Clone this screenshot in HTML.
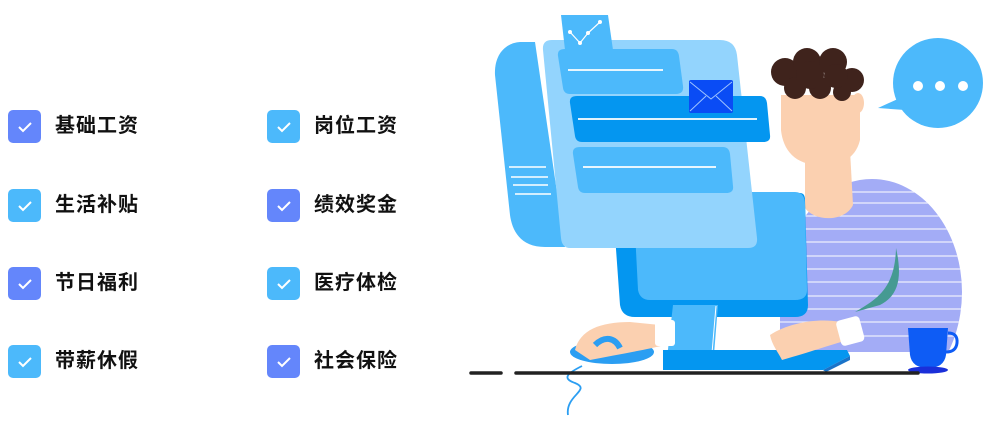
<!DOCTYPE html>
<html><head><meta charset="utf-8"><style>
html,body{margin:0;padding:0;background:#fff;width:1000px;height:423px;overflow:hidden;position:relative}
.cb{position:absolute;width:33px;height:33px;border-radius:5px}
.cb svg{position:absolute;left:0;top:0}
.p{background:#6486fb}.b{background:#4cb9fb}
.t{position:absolute;font-family:"Liberation Sans","Noto Sans CJK SC",sans-serif;font-weight:bold;font-size:20px;color:#111;line-height:33px;letter-spacing:1px}
</style></head><body>
<div class="cb p" style="left:8px;top:110px"><svg width="33" height="33"><path d="M11 17l4 4 8-8" stroke="#fff" stroke-width="2" fill="none"/></svg></div><div class="t" style="left:55px;top:110px">基础工资</div>
<div class="cb b" style="left:267px;top:110px"><svg width="33" height="33"><path d="M11 17l4 4 8-8" stroke="#fff" stroke-width="2" fill="none"/></svg></div><div class="t" style="left:314px;top:110px">岗位工资</div>
<div class="cb b" style="left:8px;top:189px"><svg width="33" height="33"><path d="M11 17l4 4 8-8" stroke="#fff" stroke-width="2" fill="none"/></svg></div><div class="t" style="left:55px;top:189px">生活补贴</div>
<div class="cb p" style="left:267px;top:189px"><svg width="33" height="33"><path d="M11 17l4 4 8-8" stroke="#fff" stroke-width="2" fill="none"/></svg></div><div class="t" style="left:314px;top:189px">绩效奖金</div>
<div class="cb p" style="left:8px;top:267px"><svg width="33" height="33"><path d="M11 17l4 4 8-8" stroke="#fff" stroke-width="2" fill="none"/></svg></div><div class="t" style="left:55px;top:267px">节日福利</div>
<div class="cb b" style="left:267px;top:267px"><svg width="33" height="33"><path d="M11 17l4 4 8-8" stroke="#fff" stroke-width="2" fill="none"/></svg></div><div class="t" style="left:314px;top:267px">医疗体检</div>
<div class="cb b" style="left:8px;top:345px"><svg width="33" height="33"><path d="M11 17l4 4 8-8" stroke="#fff" stroke-width="2" fill="none"/></svg></div><div class="t" style="left:55px;top:345px">带薪休假</div>
<div class="cb p" style="left:267px;top:345px"><svg width="33" height="33"><path d="M11 17l4 4 8-8" stroke="#fff" stroke-width="2" fill="none"/></svg></div><div class="t" style="left:314px;top:345px">社会保险</div>

<svg width="1000" height="423" style="position:absolute;left:0;top:0">
<defs><clipPath id="sh"><ellipse cx="872" cy="292" rx="90" ry="113"/><rect x="780" y="240" width="100" height="112"/></clipPath></defs>
<g clip-path="url(#sh)"><rect x="770" y="175" width="200" height="177" fill="#a3acf6"/>
<g stroke="#fff" stroke-width="1.2" opacity=".8">
<line x1="770" y1="192" x2="970" y2="192"/><line x1="770" y1="203" x2="970" y2="203"/><line x1="770" y1="216" x2="970" y2="216"/><line x1="770" y1="229" x2="970" y2="229"/><line x1="770" y1="242" x2="970" y2="242"/><line x1="770" y1="256" x2="970" y2="256"/><line x1="770" y1="269" x2="970" y2="269"/><line x1="770" y1="282" x2="970" y2="282"/><line x1="770" y1="296" x2="970" y2="296"/><line x1="770" y1="309" x2="970" y2="309"/><line x1="770" y1="322" x2="970" y2="322"/><line x1="770" y1="336" x2="970" y2="336"/></g></g>
<path d="M896 248 C902 275 900 295 880 305 L855 312 C875 300 895 290 896 248Z" fill="#459a92"/>
<path d="M805 150 L850 150 L853 205 C845 222 815 222 805 208Z" fill="#fbd0b0"/>
<path d="M781 95 L860 95 L860 140 C855 160 840 165 820 165 C795 165 783 150 781 130Z" fill="#fbd0b0"/>
<ellipse cx="858" cy="103" rx="6" ry="10" fill="#fbd0b0"/>
<g fill="#3f231c"><circle cx="785" cy="72" r="14"/><circle cx="807" cy="62" r="14"/><circle cx="833" cy="62" r="14"/><circle cx="852" cy="80" r="12"/><circle cx="795" cy="88" r="11"/><circle cx="820" cy="88" r="11"/><circle cx="842" cy="92" r="9"/><circle cx="810" cy="75" r="14"/><circle cx="836" cy="76" r="12"/></g>
<circle cx="938" cy="83" r="45" fill="#4cb9fb"/>
<path d="M900 98 L878 108 L905 110Z" fill="#4cb9fb"/>
<circle cx="918" cy="86" r="5" fill="#fff"/><circle cx="940" cy="86" r="5" fill="#fff"/><circle cx="963" cy="86" r="5" fill="#fff"/>
<path d="M520 42 L535 42 L565 247 L545 247 C520 247 512 230 510 215 L495 75 C494 55 505 43 520 42Z" fill="#4cb9fb"/>
<g stroke="#fff" stroke-width="1.5"><line x1="509" y1="167" x2="546" y2="167"/><line x1="511" y1="177" x2="548" y2="177"/><line x1="513" y1="185" x2="548" y2="185"/><line x1="515" y1="194" x2="551" y2="194"/></g>
<path d="M612 193 L800 193 Q805 193 805 200 L808 305 Q808 317 795 317 L635 317 Q622 317 620 305Z" fill="#0496f0"/>
<path d="M633 192 L795 192 Q805 192 805 205 L807 290 Q807 300 795 300 L650 300 Q640 300 638 290Z" fill="#4cb9fb"/>
<path d="M552 40 L720 40 Q735 40 737 55 L757 238 Q758 248 748 248 L570 248 Q562 248 561 238 L543 50 Q542 40 552 40Z" fill="#93d4fd"/>
<path d="M561 15 L608 15 L613 50 L565 50Z" fill="#4cb9fb"/>
<polyline points="570,32 580,43 588,33 600,22" stroke="#fff" stroke-width="1.2" fill="none"/>
<g fill="#fff"><circle cx="570" cy="32" r="2"/><circle cx="580" cy="43" r="2"/><circle cx="588" cy="33" r="2"/><circle cx="600" cy="22" r="2"/></g>
<path d="M565 49 L672 49 Q678 49 679 56 L683 86 Q684 94 676 94 L570 94 Q564 94 563 88 L558 56 Q557 49 565 49Z" fill="#4cb9fb"/>
<line x1="568" y1="70" x2="663" y2="70" stroke="#fff" stroke-width="1.8"/>
<path d="M577 96 L760 96 Q766 96 767 103 L770 135 Q771 142 763 142 L582 142 Q576 142 575 136 L570 103 Q569 96 577 96Z" fill="#0496f0"/>
<line x1="578" y1="119" x2="757" y2="119" stroke="#fff" stroke-width="1.8"/>
<path d="M580 147 L723 147 Q729 147 730 154 L733 186 Q734 193 726 193 L585 193 Q579 193 578 187 L573 154 Q572 147 580 147Z" fill="#4cb9fb"/>
<line x1="583" y1="167" x2="716" y2="167" stroke="#fff" stroke-width="1.8"/>
<rect x="689" y="80" width="44" height="33" rx="2" fill="#0a4cf5"/>
<path d="M690 82 L711 99 L732 82 M690 111 L706 96 M732 111 L716 96" stroke="#9fc4ff" stroke-width="1" fill="none"/>
<path d="M673 305 L718 305 L713 367 L666 367Z" fill="#4cb9fb"/>
<line x1="716" y1="306" x2="711" y2="365" stroke="#fff" stroke-width="1"/>
<path d="M663 350 L847 350 L850 356 L823 370 L663 370Z" fill="#0496f0"/>
<path d="M823 370 L850 356 L850 360 L826 372Z" fill="#1a73c8"/>
<path d="M770 335 C790 322 820 318 840 322 L848 340 C830 345 810 352 782 360 C778 352 772 345 770 335Z" fill="#fbd0b0"/>
<rect x="838" y="318" width="24" height="26" rx="4" fill="#fff" transform="rotate(-15 850 330)"/>
<ellipse cx="612" cy="352" rx="42" ry="12" fill="#2b9ef2"/>
<path d="M575 350 C580 330 600 322 630 322 L660 325 L665 345 C645 350 615 355 590 360Z" fill="#fbd0b0"/>
<rect x="655" y="320" width="20" height="26" rx="3" fill="#fff"/>
<path d="M595 345 C605 335 615 338 620 348" stroke="#2b9ef2" stroke-width="6" fill="none"/>
<path d="M582 366 C570 372 560 378 575 383 C592 390 565 395 568 415" stroke="#2b9ef2" stroke-width="1.8" fill="none"/>
<path d="M908 328 L948 328 L946 355 Q944 368 928 368 Q912 368 910 355Z" fill="#0e5cf5"/>
<path d="M948 333 Q958 333 957 343 Q956 352 946 352" stroke="#0e5cf5" stroke-width="3" fill="none"/>
<ellipse cx="928" cy="370" rx="20" ry="3.5" fill="#1a2fd9"/>
<line x1="471" y1="373" x2="501" y2="373" stroke="#222" stroke-width="3.5" stroke-linecap="round"/>
<line x1="516" y1="373" x2="918" y2="373" stroke="#222" stroke-width="3.5" stroke-linecap="round"/>
</svg>
</body></html>
